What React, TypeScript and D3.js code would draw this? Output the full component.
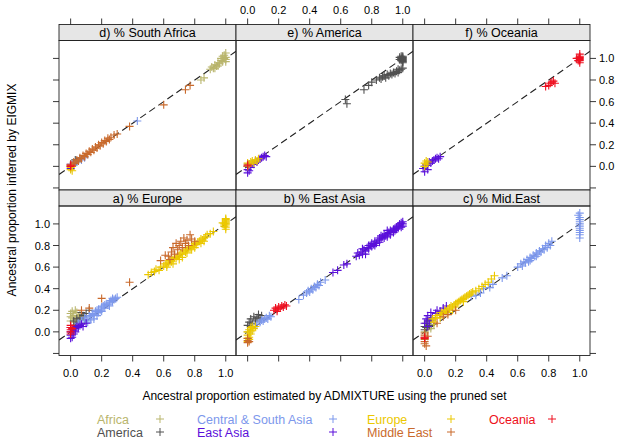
import React from "react";
import * as d3 from "d3";

// ---------- legend / groups ----------
const groups = ["Africa", "America", "Central & South Asia", "East Asia", "Europe", "Middle East", "Oceania"];
const groupColors = ["#B9B56C", "#505050", "#7D98EC", "#5A0FDA", "#EBC800", "#C96A2C", "#EE1020"];

// ---------- axis ticks ----------
const tickValues = [0, 0.2, 0.4, 0.6, 0.8, 1.0];
const yTickValues = [-0.2, 0, 0.2, 0.4, 0.6, 0.8, 1.0];

// ---------- panel titles ----------
const panelTitles = ["d) % South Africa", "e) % America", "f) % Oceania", "a) % Europe", "b) % East Asia", "c) % Mid.East"];

// ---------- data: flat [x, y, x, y, ...] (ADMIXTURE, EIGMIX) ----------
// a) Europe
const A_Africa = [0,0.1, 0.01,0.13, 0.02,0.15, 0.0,0.17, 0.03,0.12, 0.04,0.18, 0.05,0.14, 0.01,0.19, 0.02,0.09, 0.06,0.16, 0.03,0.2, 0.0,0.14];
const A_America = [0.02,0.1, 0.04,0.12, 0.06,0.13, 0.08,0.15, 0.1,0.17, 0.05,0.08, 0.07,0.18, 0.12,0.2, 0.03,0.06, 0.09,0.11];
const A_CSAsia = [0.05,0.08, 0.07,0.1, 0.09,0.13, 0.1,0.11, 0.12,0.15, 0.13,0.14, 0.14,0.17, 0.15,0.16, 0.16,0.19, 0.17,0.2, 0.18,0.21, 0.19,0.2, 0.2,0.23, 0.21,0.24, 0.22,0.22, 0.23,0.26, 0.24,0.25, 0.25,0.27, 0.26,0.29, 0.27,0.28, 0.28,0.3, 0.29,0.31, 0.3,0.32, 0.15,0.12, 0.11,0.09, 0.2,0.19, 0.25,0.24, 0.18,0.18, 0.22,0.25, 0.17,0.15, 0.27,0.31, 0.13,0.11];
const A_EastAsia = [0,-0.06, 0,-0.03, 0,0.0, 0.01,0.02, 0.0,0.04, 0.02,-0.02, 0.03,0.03, 0.04,0.05, 0.05,0.04, 0.06,0.06, 0.07,0.07, 0.08,0.05, 0.1,0.08, 0.02,0.01, 0.01,-0.05, 0.03,0.0];
const A_Europe = [0.5,0.53, 0.52,0.55, 0.54,0.56, 0.55,0.58, 0.57,0.57, 0.58,0.6, 0.6,0.61, 0.61,0.63, 0.62,0.62, 0.63,0.64, 0.64,0.66, 0.65,0.65, 0.66,0.67, 0.67,0.69, 0.68,0.68, 0.69,0.7, 0.7,0.71, 0.71,0.73, 0.72,0.72, 0.73,0.75, 0.74,0.74, 0.75,0.76, 0.76,0.78, 0.77,0.77, 0.78,0.79, 0.79,0.8, 0.8,0.82, 0.81,0.81, 0.82,0.83, 0.83,0.84, 0.84,0.86, 0.85,0.85, 0.86,0.87, 0.87,0.88, 0.88,0.9, 0.9,0.91, 0.92,0.93, 0.66,0.63, 0.7,0.67, 0.75,0.73, 0.8,0.78, 0.72,0.69, 0.78,0.76, 0.84,0.82, 0.86,0.84, 0.62,0.6, 1,0.95, 1,0.97, 1,0.99, 1,1.0, 1,1.01, 1,1.02, 1,1.03, 1,1.04, 0.99,0.98, 0.99,1.0, 1,1.05, 0.98,1.01];
const A_MidEast = [0.58,0.66, 0.61,0.71, 0.63,0.7, 0.65,0.74, 0.66,0.78, 0.68,0.82, 0.69,0.76, 0.7,0.8, 0.71,0.84, 0.72,0.78, 0.73,0.87, 0.74,0.82, 0.75,0.85, 0.76,0.8, 0.77,0.9, 0.78,0.86, 0.8,0.84, 0.67,0.72, 0.38,0.46, 0.2,0.31, 0.12,0.22, 0.07,0.2, 0.64,0.67];
const A_Oceania = [0,0.0, 0,0.02, 0,0.04, 0,0.06, 0.01,0.03, 0,-0.02];

// b) East Asia
const B_Africa = [0,0.0, 0.01,-0.01];
const B_America = [0,0.06, 0.01,0.09, 0.02,0.12, 0.03,0.08, 0.04,0.14, 0.05,0.1, 0.06,0.13, 0.07,0.16, 0.08,0.12, 0.09,0.15, 0.02,0.05];
const B_CSAsia = [0.06,0.07, 0.08,0.09, 0.1,0.1, 0.11,0.12, 0.12,0.13, 0.13,0.12, 0.14,0.15, 0.15,0.14, 0.33,0.3, 0.36,0.34, 0.38,0.36, 0.39,0.38, 0.4,0.37, 0.41,0.4, 0.42,0.39, 0.43,0.42, 0.44,0.41, 0.45,0.44, 0.46,0.43, 0.47,0.46, 0.5,0.48, 0.09,0.11];
const B_EastAsia = [0.55,0.55, 0.58,0.57, 0.62,0.62, 0.64,0.63, 0.7,0.7, 0.71,0.73, 0.72,0.71, 0.73,0.74, 0.74,0.72, 0.75,0.76, 0.76,0.75, 0.77,0.78, 0.78,0.77, 0.79,0.8, 0.8,0.79, 0.8,0.82, 0.81,0.81, 0.82,0.84, 0.83,0.82, 0.84,0.85, 0.85,0.83, 0.85,0.87, 0.86,0.86, 0.87,0.88, 0.88,0.87, 0.88,0.9, 0.89,0.89, 0.9,0.91, 0.9,0.88, 0.91,0.92, 0.92,0.9, 0.92,0.94, 0.93,0.93, 0.94,0.95, 0.94,0.92, 0.95,0.96, 0.95,0.94, 0.96,0.97, 0.96,0.95, 0.97,0.98, 0.97,0.96, 0.98,0.99, 0.98,1.0, 0.99,0.97, 0.99,1.01, 1,1.0, 1,1.02, 1,0.98, 0.9,0.94, 0.86,0.89, 0.82,0.8, 0.78,0.8, 0.74,0.77, 0.76,0.72];
const B_Europe = [0,-0.09, 0,-0.06, 0,-0.03, 0,0.0, 0.01,0.02, 0.01,-0.05, 0.02,0.04, 0.02,-0.02, 0.03,0.01, 0.03,0.05, 0.04,0.03, 0.05,0.05, 0.01,-0.07];
const B_MidEast = [0,-0.06, 0,-0.08, 0,-0.1, 0.01,-0.09];
const B_Oceania = [0.17,0.2, 0.18,0.22, 0.19,0.21, 0.2,0.23, 0.21,0.22, 0.22,0.24, 0.23,0.23, 0.24,0.25, 0.19,0.19, 0.25,0.24];

// c) Mid.East
const C_Africa = [0,0.0, 0.02,0.02, 0.04,0.03, 0.06,0.07];
const C_America = [0,0.02, 0,0.05, 0.01,0.08, 0.02,0.1, 0.03,0.06, 0.04,0.11, 0.01,0.04];
const C_CSAsia = [1,0.87, 1,0.9, 1,0.92, 1,0.94, 1,0.96, 1,0.98, 1,1.0, 1,1.02, 1,1.04, 1,1.06, 0.99,1.08, 1,1.1, 0.6,0.6, 0.62,0.63, 0.63,0.61, 0.64,0.65, 0.65,0.64, 0.66,0.67, 0.67,0.65, 0.68,0.69, 0.69,0.68, 0.7,0.71, 0.71,0.7, 0.72,0.73, 0.73,0.72, 0.74,0.75, 0.75,0.74, 0.76,0.77, 0.77,0.76, 0.78,0.8, 0.79,0.78, 0.8,0.82, 0.81,0.8, 0.82,0.84, 0.68,0.66, 0.72,0.7, 0.5,0.5, 0.53,0.52, 0.44,0.44, 0.42,0.41, 0.36,0.36, 0.33,0.34, 0.3,0.33, 0.38,0.4];
const C_EastAsia = [0,0.08, 0.01,0.12, 0.02,0.15, 0.03,0.1, 0.04,0.18, 0.05,0.13, 0.07,0.17, 0.08,0.2, 0.1,0.19, 0.12,0.22, 0.14,0.24, 0.02,0.05];
const C_Europe = [0.05,0.12, 0.07,0.13, 0.08,0.15, 0.1,0.16, 0.11,0.18, 0.12,0.17, 0.13,0.2, 0.14,0.19, 0.15,0.21, 0.16,0.22, 0.17,0.24, 0.18,0.23, 0.19,0.25, 0.2,0.26, 0.21,0.27, 0.22,0.28, 0.23,0.29, 0.24,0.3, 0.25,0.31, 0.26,0.32, 0.27,0.33, 0.28,0.34, 0.29,0.35, 0.3,0.36, 0.31,0.37, 0.33,0.38, 0.35,0.4, 0.37,0.42, 0.39,0.44, 0.41,0.46, 0.43,0.49, 0.45,0.52, 0.15,0.18, 0.2,0.23, 0.25,0.28, 0.1,0.13, 0.06,0.09, 0.18,0.2];
const C_MidEast = [0,-0.01, 0,-0.03, 0,-0.05, 0,-0.07, 0,-0.09, 0,-0.11, 0.01,-0.13, 0.02,-0.04, 0.12,0.14, 0.15,0.16, 0.2,0.2, 0.08,0.08];
const C_Oceania = [0,-0.05, 0,-0.06];

// d) South Africa
const D_Africa = [0.86,0.82, 0.84,0.8, 0.9,0.9, 0.91,0.92, 0.92,0.91, 0.93,0.94, 0.94,0.93, 0.95,0.96, 0.96,0.95, 0.97,0.98, 0.98,0.97, 0.99,1.0, 1,0.99, 1,1.01, 0.99,1.03, 1,1.05, 0.97,1.0, 0.95,0.93, 0.93,0.91, 0.98,1.02, 1.0,0.97];
const D_America = [0.02,0.03, 0.04,0.05, 0.03,0.06, 0.06,0.07];
const D_CSAsia = [0.43,0.42, 0.05,0.05, 0.07,0.06, 0.02,0.01, 0.09,0.08];
const D_EastAsia = [0,0.0, 0,-0.02, 0.01,0.01, 0,0.02];
const D_Europe = [0,-0.03, 0,-0.01, 0.01,0.0, 0,0.01, 0.01,-0.04];
const D_MidEast = [0.0,0.02, 0.02,0.04, 0.03,0.03, 0.04,0.06, 0.05,0.05, 0.06,0.08, 0.07,0.07, 0.08,0.1, 0.09,0.09, 0.1,0.12, 0.11,0.11, 0.12,0.14, 0.13,0.13, 0.14,0.16, 0.15,0.15, 0.16,0.18, 0.17,0.17, 0.18,0.2, 0.19,0.19, 0.2,0.22, 0.21,0.21, 0.22,0.24, 0.23,0.23, 0.24,0.26, 0.25,0.25, 0.26,0.27, 0.28,0.29, 0.3,0.3, 0.38,0.37, 0.6,0.57, 0.74,0.71, 0.77,0.75];
const D_Oceania = [0,0.0, 0,0.01];

// e) America
const E_Africa: number[] = [];
const E_America = [1,0.97, 1,0.98, 1,0.99, 1,1.0, 1,1.01, 1,1.02, 0.99,0.98, 0.99,1.0, 0.98,0.99, 0.98,1.01, 0.99,1.02, 1,0.96, 0.83,0.8, 0.85,0.82, 0.86,0.81, 0.87,0.83, 0.88,0.84, 0.89,0.82, 0.9,0.85, 0.91,0.84, 0.92,0.86, 0.93,0.85, 0.94,0.87, 0.95,0.86, 0.96,0.88, 0.97,0.87, 0.98,0.89, 0.99,0.9, 1,0.91, 0.97,0.9, 0.8,0.78, 0.78,0.75, 0.75,0.71, 0.63,0.62, 0.64,0.58];
const E_CSAsia: number[] = [];
const E_EastAsia = [0,-0.06, 0,-0.03, 0,0.0, 0.01,0.02, 0.02,-0.01, 0.03,0.03, 0.04,0.02, 0.05,0.05, 0.06,0.04, 0.07,0.06, 0.08,0.07, 0.09,0.08, 0.1,0.09, 0.11,0.1, 0.12,0.09, 0.01,-0.04];
const E_Europe = [0,0.0, 0.01,0.02, 0.02,0.04, 0.03,0.05, 0.04,0.03, 0.05,0.06, 0.06,0.05, 0.07,0.07, 0.0,0.03];
const E_MidEast = [0,0.0, 0,0.02];
const E_Oceania = [0,0.01];

// f) Oceania
const F_Africa: number[] = [];
const F_America: number[] = [];
const F_CSAsia: number[] = [];
const F_EastAsia = [-0.01,-0.02, 0,-0.05, 0,0.0, 0.01,0.02, 0.02,0.01, 0.03,0.04, 0.04,0.03, 0.05,0.05, 0.06,0.06, 0.07,0.07, 0.08,0.08, 0.09,0.07, 0.1,0.09, 0.02,-0.03];
const F_Europe = [0,0.0, 0.01,0.02, 0.02,0.04, 0,0.03, 0.01,0.05];
const F_MidEast: number[] = [];
const F_Oceania = [1,0.96, 1,0.98, 1,0.99, 1,1.0, 1,1.01, 1,1.02, 0.99,1.0, 0.99,0.98, 1,1.04, 0.98,1.0, 0.8,0.75, 0.81,0.77, 0.82,0.78, 0.83,0.79, 0.84,0.77, 0.78,0.74];

// panel order: d e f (top row), a b c (bottom row); groups in legend order
const panelData = [
  [D_Africa, D_America, D_CSAsia, D_EastAsia, D_Europe, D_MidEast, D_Oceania],
  [E_Africa, E_America, E_CSAsia, E_EastAsia, E_Europe, E_MidEast, E_Oceania],
  [F_Africa, F_America, F_CSAsia, F_EastAsia, F_Europe, F_MidEast, F_Oceania],
  [A_Africa, A_America, A_CSAsia, A_EastAsia, A_Europe, A_MidEast, A_Oceania],
  [B_Africa, B_America, B_CSAsia, B_EastAsia, B_Europe, B_MidEast, B_Oceania],
  [C_Africa, C_America, C_CSAsia, C_EastAsia, C_Europe, C_MidEast, C_Oceania],
];

const FONT = "'Liberation Sans', Arial, Helvetica, sans-serif";

export default function App() {
  const W = 622, H = 441;
  const colX = [59, 236, 413];
  const panelW = 177;
  const stripH = 16;
  const panelH = 149.5;
  const rowStripTop = [24.5, 190];
  const xScale = d3.scaleLinear().domain([-0.075, 1.066]).range([0, panelW]);
  const yScale = d3.scaleLinear().domain([-0.219, 1.166]).range([panelH, 0]);
  const arm = 4;
  const tickLen = 6;
  const axisCol = "#222";

  const panels = panelTitles.map((title, i) => {
    const col = i % 3;
    const row = Math.floor(i / 3);
    const px = colX[col];
    const sy = rowStripTop[row];
    const py = sy + stripH;
    const lo = xScale.domain()[0], hi = xScale.domain()[1];
    return (
      <g key={i}>
        <defs>
          <clipPath id={`clip${i}`}>
            <rect x={0} y={0} width={panelW} height={panelH} />
          </clipPath>
        </defs>
        <rect x={px} y={sy} width={panelW} height={stripH} fill="#E6E6E6" stroke={axisCol} strokeWidth={0.9} />
        <text x={px + panelW / 2} y={sy + stripH / 2 + 4.5} textAnchor="middle" fontSize={12.5} fontFamily={FONT} fill="#000">{title}</text>
        <g transform={`translate(${px},${py})`}>
          <g clipPath={`url(#clip${i})`}>
            <line x1={xScale(lo)} y1={yScale(lo)} x2={xScale(hi)} y2={yScale(hi)} stroke="#222" strokeWidth={1.1} strokeDasharray="7,4" />
            {panelData[i].map((arr, g) => {
              const pts: [number, number][] = [];
              for (let k = 0; k + 1 < arr.length; k += 2) pts.push([arr[k], arr[k + 1]]);
              return (
                <g key={g} stroke={groupColors[g]} strokeWidth={1.1}>
                  {pts.map((p, k) => {
                    const cx = xScale(p[0]), cy = yScale(p[1]);
                    return <path key={k} d={`M${cx - arm},${cy}H${cx + arm}M${cx},${cy - arm}V${cy + arm}`} fill="none" />;
                  })}
                </g>
              );
            })}
          </g>
          <rect x={0} y={0} width={panelW} height={panelH} fill="none" stroke={axisCol} strokeWidth={0.9} />
        </g>
      </g>
    );
  });

  // axes
  const axes: React.ReactNode[] = [];
  colX.forEach((px, c) => {
    tickValues.forEach((t, k) => {
      const x = px + xScale(t);
      axes.push(<line key={`tt${c}${k}`} x1={x} x2={x} y1={rowStripTop[0]} y2={rowStripTop[0] - tickLen} stroke={axisCol} strokeWidth={0.9} />);
      if (c === 1) axes.push(<text key={`tl${c}${k}`} x={x} y={14} textAnchor="middle" fontSize={11} fontFamily={FONT}>{d3.format(".1f")(t)}</text>);
    });
  });
  const bottomY = rowStripTop[1] + stripH + panelH;
  colX.forEach((px, c) => {
    tickValues.forEach((t, k) => {
      const x = px + xScale(t);
      axes.push(<line key={`bt${c}${k}`} x1={x} x2={x} y1={bottomY} y2={bottomY + tickLen} stroke={axisCol} strokeWidth={0.9} />);
      if (c !== 1) axes.push(<text key={`bl${c}${k}`} x={x} y={bottomY + 21} textAnchor="middle" fontSize={11} fontFamily={FONT}>{d3.format(".1f")(t)}</text>);
    });
  });
  [0, 1].forEach((r) => {
    const py = rowStripTop[r] + stripH;
    yTickValues.forEach((t, k) => {
      const y = py + yScale(t);
      axes.push(<line key={`lt${r}${k}`} x1={colX[0]} x2={colX[0] - tickLen} y1={y} y2={y} stroke={axisCol} strokeWidth={0.9} />);
      const rx = colX[2] + panelW;
      axes.push(<line key={`rt${r}${k}`} x1={rx} x2={rx + tickLen} y1={y} y2={y} stroke={axisCol} strokeWidth={0.9} />);
      if (t >= 0) {
        if (r === 1) axes.push(<text key={`ll${r}${k}`} x={colX[0] - 9} y={y + 4} textAnchor="end" fontSize={11} fontFamily={FONT}>{d3.format(".1f")(t)}</text>);
        if (r === 0) axes.push(<text key={`rl${r}${k}`} x={rx + 9} y={y + 4} textAnchor="start" fontSize={11} fontFamily={FONT}>{d3.format(".1f")(t)}</text>);
      }
    });
  });

  // legend
  const legCols = [
    { tx: 97, px: 160 },
    { tx: 197, px: 333 },
    { tx: 367, px: 451 },
    { tx: 489, px: 552 },
  ];
  const legRows = [419, 432];
  const legend = groups.map((gname, g) => {
    const c = Math.floor(g / 2);
    const r = g % 2;
    const { tx, px } = legCols[c];
    const y = legRows[r];
    return (
      <g key={gname}>
        <text x={tx} y={y + 4.5} fontSize={12.5} fontFamily={FONT} fill={groupColors[g]}>{gname}</text>
        <path d={`M${px - arm},${y}H${px + arm}M${px},${y - arm}V${y + arm}`} stroke={groupColors[g]} strokeWidth={1} fill="none" />
      </g>
    );
  });

  return (
    <svg width={W} height={H} style={{ position: "absolute", left: 0, top: 0, background: "#fff" }}>
      <rect x={0} y={0} width={W} height={H} fill="#fff" />
      {panels}
      {axes}
      <text x={(colX[0] + colX[2] + panelW) / 2} y={400} textAnchor="middle" fontSize={12} fontFamily={FONT}>Ancestral proportion estimated by ADMIXTURE using the pruned set</text>
      <text transform={`translate(16,${(rowStripTop[0] + bottomY) / 2}) rotate(-90)`} textAnchor="middle" fontSize={12} fontFamily={FONT}>Ancestral proportion inferred by EIGMIX</text>
      {legend}
    </svg>
  );
}
